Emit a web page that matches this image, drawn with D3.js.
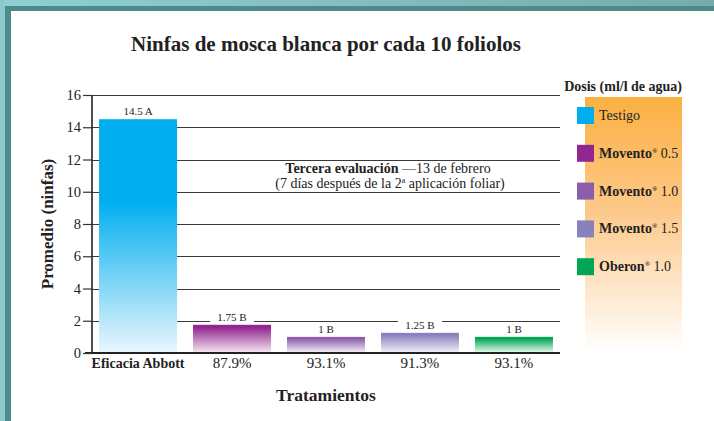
<!DOCTYPE html>
<html>
<head>
<meta charset="utf-8">
<script src="https://cdn.jsdelivr.net/npm/d3@7"></script>
<style>
  html, body { margin: 0; padding: 0; background: #fff; }
  svg { display: block; font-family: "Liberation Serif", "DejaVu Serif", serif; }
</style>
</head>
<body>
<div id="chart"></div>
<script>
// Data
const treatments = ["Testigo", "Movento 0.5", "Movento 1.0", "Movento 1.5", "Oberon 1.0"];
const means = [14.5, 1.75, 1, 1.25, 1];
const groups = ["A", "B", "B", "B", "B"];
const efficacy = ["Eficacia Abbott", "87.9%", "93.1%", "91.3%", "93.1%"];
const yTicks = [0, 2, 4, 6, 8, 10, 12, 14, 16];
const legendNames = ["Testigo", "Movento", "Movento", "Movento", "Oberon"];
const legendDoses = ["", "0.5", "1.0", "1.5", "1.0"];
const colors = ["#00aeef", "#92278f", "#8b5ea8", "#8781bd", "#00a651"];
const fadeColors = ["#e8f6fd", "#f3e4f1", "#efe8f5", "#eeedf7", "#e2f5e9"];

const width = 714, height = 421;
const margin = { top: 95, right: 154, bottom: 68, left: 92 };

const svg = d3.select("#chart").append("svg")
    .attr("width", width)
    .attr("height", height);

const defs = svg.append("defs");

// Frame (teal bands on top and left)
const topGrad = defs.append("linearGradient").attr("id", "frame-top")
    .attr("x1", "0%").attr("x2", "100%").attr("y1", "0%").attr("y2", "0%");
topGrad.append("stop").attr("offset", "0%").attr("stop-color", "#8fd0d2");
topGrad.append("stop").attr("offset", "100%").attr("stop-color", "#77abad");
svg.append("rect").attr("x", 0).attr("y", 0).attr("width", width).attr("height", 6).attr("fill", "url(#frame-top)");
svg.append("rect").attr("x", 0).attr("y", 0).attr("width", 5).attr("height", height).attr("fill", "#8cc9cb");
svg.append("rect").attr("x", 5).attr("y", 6).attr("width", width - 5).attr("height", 5).attr("fill", "#4d8b8a");
svg.append("rect").attr("x", 5).attr("y", 6).attr("width", 6).attr("height", height - 6).attr("fill", "#4d8b8a");

// Scales
const x = d3.scaleBand()
    .domain(treatments)
    .range([margin.left, width - margin.right])
    .paddingInner(0.17)
    .paddingOuter(0.075);

const y = d3.scaleLinear()
    .domain([0, 16])
    .range([353, margin.top]);

// Legend panel (orange fading to white)
const panelGrad = defs.append("linearGradient").attr("id", "panel-grad")
    .attr("x1", "0%").attr("x2", "0%").attr("y1", "0%").attr("y2", "100%");
panelGrad.append("stop").attr("offset", "0%").attr("stop-color", "#fbb040");
panelGrad.append("stop").attr("offset", "45%").attr("stop-color", "#fdc98a");
panelGrad.append("stop").attr("offset", "100%").attr("stop-color", "#ffffff");
svg.append("rect")
    .attr("x", 585).attr("y", 97)
    .attr("width", 97).attr("height", 255)
    .attr("fill", "url(#panel-grad)");

// Gridlines
svg.append("g")
    .selectAll("line")
    .data(yTicks.filter(d => d > 0))
    .join("line")
    .attr("x1", margin.left)
    .attr("x2", 560)
    .attr("y1", d => Math.round(y(d)) + 0.5)
    .attr("y2", d => Math.round(y(d)) + 0.5)
    .attr("stroke", "#3a3a3a")
    .attr("stroke-width", 1.2);

// Bar gradients
treatments.forEach((t, i) => {
    const g = defs.append("linearGradient").attr("id", `bar-grad-${i}`)
        .attr("x1", "0%").attr("x2", "0%").attr("y1", "0%").attr("y2", "100%");
    g.append("stop").attr("offset", "0%").attr("stop-color", colors[i]);
    g.append("stop").attr("offset", i === 0 ? "35%" : "10%").attr("stop-color", colors[i]);
    g.append("stop").attr("offset", "100%").attr("stop-color", fadeColors[i]);
});

// Baseline
svg.append("line")
    .attr("x1", 85).attr("x2", 560)
    .attr("y1", y(0)).attr("y2", y(0))
    .attr("stroke", "#222")
    .attr("stroke-width", 2);

// Bars
svg.append("g")
    .selectAll("rect")
    .data(means)
    .join("rect")
    .attr("x", (d, i) => x(treatments[i]))
    .attr("y", d => y(d))
    .attr("width", x.bandwidth())
    .attr("height", d => y(0) - y(d) - 1)
    .attr("fill", (d, i) => `url(#bar-grad-${i})`);

// Value labels (white background breaks the gridline)
const labels = svg.append("g")
    .selectAll("g")
    .data(means)
    .join("g")
    .attr("transform", (d, i) => `translate(${x(treatments[i]) + x.bandwidth() / 2},${y(d) - 4})`);
labels.append("rect")
    .attr("x", -22).attr("y", -9)
    .attr("width", 44).attr("height", 11)
    .attr("fill", (d, i) => i === 0 ? "none" : "#fff");
labels.append("text")
    .attr("text-anchor", "middle")
    .attr("font-size", 11)
    .attr("fill", "#222")
    .text((d, i) => `${d} ${groups[i]}`);

// Y axis
const yAxis = d3.axisLeft(y)
    .tickValues(yTicks)
    .tickSize(9)
    .tickPadding(2);
const yg = svg.append("g")
    .attr("transform", `translate(${margin.left},0)`)
    .call(yAxis);
yg.select(".domain")
    .attr("d", `M0,${y(16)}V${y(0)}`)
    .attr("stroke", "#222")
    .attr("stroke-width", 1.6);
yg.selectAll(".tick line").attr("stroke", "#333").attr("stroke-width", 1.2);
yg.selectAll(".tick text")
    .attr("font-size", 14.5)
    .attr("font-family", "Liberation Serif")
    .attr("fill", "#222");

// X tick labels (efficacy)
svg.append("g")
    .selectAll("text")
    .data(efficacy)
    .join("text")
    .attr("x", (d, i) => x(treatments[i]) + x.bandwidth() / 2)
    .attr("y", 368)
    .attr("text-anchor", "middle")
    .attr("font-size", (d, i) => i === 0 ? 14 : 15)
    .attr("font-weight", (d, i) => i === 0 ? "bold" : "normal")
    .attr("fill", "#222")
    .text(d => d);

// Titles
svg.append("text")
    .attr("x", 326).attr("y", 51)
    .attr("text-anchor", "middle")
    .attr("font-size", 21)
    .attr("font-weight", "bold")
    .attr("fill", "#222")
    .text("Ninfas de mosca blanca por cada 10 foliolos");

svg.append("text")
    .attr("transform", "translate(53,224) rotate(-90)")
    .attr("text-anchor", "middle")
    .attr("font-size", 17)
    .attr("font-weight", "bold")
    .attr("fill", "#222")
    .text("Promedio (ninfas)");

svg.append("text")
    .attr("x", 326).attr("y", 401)
    .attr("text-anchor", "middle")
    .attr("font-size", 17.5)
    .attr("font-weight", "bold")
    .attr("fill", "#222")
    .text("Tratamientos");

// Annotation
const note = svg.append("text")
    .attr("text-anchor", "middle")
    .attr("font-size", 14)
    .attr("fill", "#222");
const l1 = note.append("tspan").attr("x", 388).attr("y", 173);
l1.append("tspan").attr("font-weight", "bold").text("Tercera evaluación");
l1.append("tspan").text(" —13 de febrero");
const l2 = note.append("tspan").attr("x", 390).attr("y", 188);
l2.append("tspan").text("(7 días después de la 2");
l2.append("tspan").attr("font-size", 8).attr("dy", -5).text("a");
l2.append("tspan").attr("dy", 5).text(" aplicación foliar)");

// Legend
svg.append("text")
    .attr("x", 682).attr("y", 91)
    .attr("text-anchor", "end")
    .attr("font-size", 14)
    .attr("font-weight", "bold")
    .attr("fill", "#222")
    .text("Dosis (ml/l de agua)");

const legend = svg.append("g")
    .selectAll("g")
    .data(legendNames)
    .join("g")
    .attr("transform", (d, i) => `translate(577,${107 + i * 37.8})`);
legend.append("rect")
    .attr("width", 17).attr("height", 17)
    .attr("fill", (d, i) => colors[i]);
const lt = legend.append("text")
    .attr("x", 22).attr("y", 13)
    .attr("font-size", 14)
    .attr("fill", "#222");
lt.append("tspan")
    .attr("font-weight", (d, i) => i === 0 ? "normal" : "bold")
    .text(d => d);
lt.filter((d, i) => i > 0).append("tspan")
    .attr("font-size", 7).attr("dy", -5).attr("font-weight", "bold")
    .text("®");
lt.filter((d, i) => i > 0).append("tspan")
    .attr("dy", 5)
    .text((d, i) => " " + legendDoses[i + 1]);
</script>
</body>
</html>
